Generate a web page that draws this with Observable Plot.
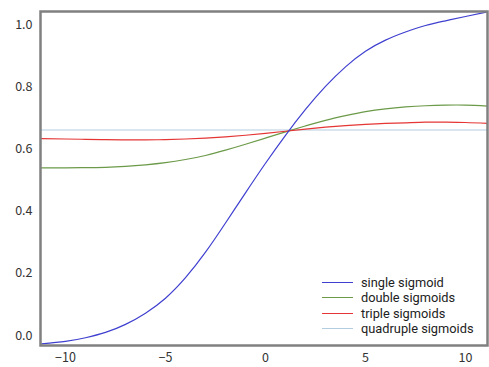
<!DOCTYPE html>
<html>
<head>
<meta charset="utf-8">
<script src="https://cdn.jsdelivr.net/npm/d3@7"></script>
<script src="https://cdn.jsdelivr.net/npm/@observablehq/plot@0.6"></script>
<style>
  html, body { margin: 0; padding: 0; background: #fff; }
  #wrap { position: relative; width: 489px; height: 367px; font-family: "Noto Sans CJK KR", "Noto Sans", sans-serif; }
  #legend { position: absolute; left: 322px; top: 275px; font-family: Roboto, "Noto Sans", sans-serif; font-size: 12.8px; color: #222; }
  #legend .row { display: flex; align-items: center; white-space: nowrap; height: 15.3px; line-height: 15.3px; overflow: visible; }
  #legend .sw { width: 31px; height: 0; border-top: 1px solid; margin-right: 8px; }
</style>
</head>
<body>
<div id="wrap"><div id="legend"></div></div>
<script>
const xs = [-11.2, -10, -9, -8, -7, -6, -5, -4, -3, -2, -1, 0, 1, 2, 3, 4, 5, 6, 7, 8, 9, 10, 11.1];
const single = [-0.027, -0.019, -0.007, 0.010, 0.036, 0.072, 0.120, 0.186, 0.268, 0.362, 0.459, 0.554, 0.644, 0.727, 0.801, 0.864, 0.914, 0.950, 0.976, 0.997, 1.012, 1.026, 1.041];
const double = [0.539, 0.539, 0.540, 0.541, 0.544, 0.549, 0.556, 0.566, 0.579, 0.596, 0.615, 0.635, 0.655, 0.674, 0.692, 0.707, 0.720, 0.729, 0.735, 0.739, 0.741, 0.741, 0.738];
const triple = [0.633, 0.632, 0.631, 0.630, 0.629, 0.629, 0.630, 0.632, 0.635, 0.639, 0.644, 0.650, 0.657, 0.664, 0.670, 0.675, 0.679, 0.682, 0.684, 0.686, 0.686, 0.685, 0.682];
const quadruple = [0.661, 0.661, 0.661, 0.661, 0.661, 0.661, 0.661, 0.661, 0.661, 0.661, 0.661, 0.661, 0.661, 0.661, 0.661, 0.661, 0.661, 0.661, 0.661, 0.661, 0.661, 0.661, 0.661];
const seriesNames = ["single sigmoid", "double sigmoids", "triple sigmoids", "quadruple sigmoids"];
const seriesColors = ["#3f3fd0", "#6b9a48", "#e53535", "#b3cde0"];
const xTicks = [-10, -5, 0, 5, 10];
const yTicks = [0, 0.2, 0.4, 0.6, 0.8, 1.0];

const allSeries = [single, double, triple, quadruple];
const rows = [];
allSeries.forEach((vals, i) => vals.forEach((v, j) => rows.push({x: xs[j], y: v, s: seriesNames[i]})));

const drawOrder = [3, 1, 2, 0];
const chart = Plot.plot({
  width: 489,
  height: 367,
  marginLeft: 40,
  marginRight: 2,
  marginTop: 11,
  marginBottom: 22,
  style: {fontFamily: '"Noto Sans CJK KR", "Noto Sans", sans-serif', fontSize: "12.5px", color: "#333", background: "#fff"},
  x: {domain: [-11.25, 11.1], ticks: xTicks, tickSize: 0, tickPadding: 8, label: null},
  y: {domain: [-0.032, 1.042], ticks: yTicks, tickSize: 0, tickPadding: 8, tickFormat: d3.format(".1f"), label: null},
  color: {domain: seriesNames, range: seriesColors},
  marks: [
    ...drawOrder.map(i => Plot.line(rows.filter(d => d.s === seriesNames[i]), {x: "x", y: "y", stroke: "s", strokeWidth: 1.2, curve: "natural"})),
    Plot.frame({stroke: "#808080", strokeWidth: 2.5})
  ]
});
const wrap = document.getElementById("wrap");
wrap.insertBefore(chart, wrap.firstChild);
chart.style.display = "block";

const legend = document.getElementById("legend");
seriesNames.forEach((name, i) => {
  const row = document.createElement("div");
  row.className = "row";
  const sw = document.createElement("span");
  sw.className = "sw";
  sw.style.borderColor = seriesColors[i];
  const t = document.createElement("span");
  t.textContent = name;
  row.appendChild(sw);
  row.appendChild(t);
  legend.appendChild(row);
});
</script>
</body>
</html>
